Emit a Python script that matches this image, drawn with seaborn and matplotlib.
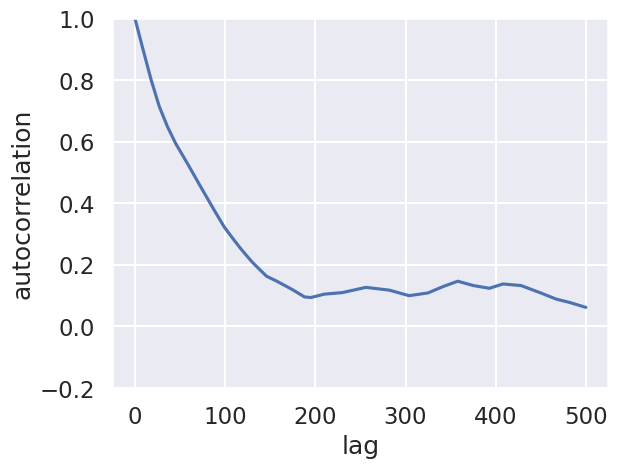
import numpy as np
import pandas as pd
import seaborn as sns
import matplotlib
matplotlib.use("Agg")
import matplotlib.pyplot as plt

lag = [0, 8, 18, 27, 36, 45, 58, 73, 88, 99, 110, 118, 130, 140, 146,
       158, 175, 188, 195, 210, 230, 256, 282, 304, 325, 342, 358, 375,
       393, 408, 428, 449, 467, 482, 500]
acf = [1.0, 0.91, 0.80, 0.714, 0.649, 0.595, 0.53, 0.453, 0.377, 0.323,
       0.28, 0.25, 0.209, 0.18, 0.163, 0.146, 0.119, 0.096, 0.094, 0.105,
       0.11, 0.127, 0.118, 0.10, 0.109, 0.13, 0.147, 0.133, 0.124, 0.138,
       0.133, 0.11, 0.089, 0.078, 0.062]

df = pd.DataFrame({"lag": lag, "autocorrelation": acf})

sns.set_theme(context="talk", style="darkgrid")
fig, ax = plt.subplots(figsize=(6.4, 4.8))
sns.lineplot(data=df, x="lag", y="autocorrelation", ax=ax)
ax.set_ylim(-0.2, 1.0)
fig.savefig("out.png", dpi=100, bbox_inches="tight")
